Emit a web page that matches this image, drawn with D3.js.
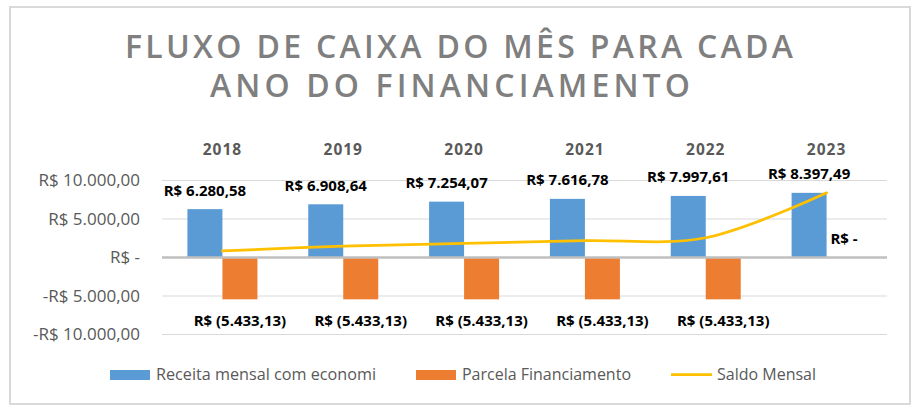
<!DOCTYPE html>
<html>
<head>
<meta charset="utf-8">
<script src="https://cdn.jsdelivr.net/npm/d3@7"></script>
<style>
  html, body { margin: 0; padding: 0; background: #ffffff; }
  svg { display: block; }
  text { font-family: "Open Sans", "Noto Sans", sans-serif; }
</style>
</head>
<body>
<svg id="chart" width="914" height="412"></svg>
<script>
const titleLines = ["FLUXO DE CAIXA DO MÊS PARA CADA", "ANO DO FINANCIAMENTO"];
const categories = ["2018", "2019", "2020", "2021", "2022", "2023"];
const receita = [6280.58, 6908.64, 7254.07, 7616.78, 7997.61, 8397.49];
const parcela = [-5433.13, -5433.13, -5433.13, -5433.13, -5433.13, 0];
const saldo = [847.45, 1475.51, 1820.94, 2183.65, 2564.48, 8397.49];
const yTicks = [-10000, -5000, 0, 5000, 10000];
const seriesNames = ["Receita mensal com economi", "Parcela Financiamento", "Saldo Mensal"];

const colors = { receita: "#5b9bd5", parcela: "#ed7d31", saldo: "#ffc000" };

const svg = d3.select("#chart");

// chart border
svg.append("rect")
  .attr("x", 10).attr("y", 7).attr("width", 900).attr("height", 397)
  .attr("fill", "#ffffff").attr("stroke", "#d9d9d9").attr("stroke-width", 2);

// title: fit each line to its width by adjusting letter spacing
const titleWidths = [668, 480];
const titleY = [57.5, 97];
const titleCx = [459, 450];
titleLines.forEach((t, i) => {
  const el = svg.append("text")
    .attr("x", titleCx[i]).attr("y", titleY[i])
    .attr("text-anchor", "middle")
    .attr("font-size", 32).attr("font-weight", 600)
    .attr("fill", "#7f7f7f")
    .text(t);
  const w0 = el.node().getComputedTextLength();
  const ls = (titleWidths[i] - w0) / (t.length - 1);
  el.attr("letter-spacing", ls).attr("x", titleCx[i] + ls / 2);
});

const x = d3.scaleBand().domain(categories).range([162, 887]).paddingInner(0).paddingOuter(0);
const y = d3.scaleLinear().domain([-10000, 10000]).range([334.5, 180.5]);
const barW = 35;

function fmtBR(v) {
  const a = Math.abs(v);
  if (a === 0) return "R$ -";
  const s = a.toFixed(2).split(".");
  const intPart = s[0].replace(/\B(?=(\d{3})+(?!\d))/g, ".");
  const body = intPart + "," + s[1];
  return v < 0 ? "R$ (" + body + ")" : "R$ " + body;
}
function fmtTick(v) {
  if (v === 0) return "R$ -";
  const a = Math.abs(v);
  const intPart = String(a).replace(/\B(?=(\d{3})+(?!\d))/g, ".");
  return (v < 0 ? "-" : "") + "R$ " + intPart + ",00";
}

// y axis labels
const yAxis = d3.axisLeft(y).tickValues(yTicks).tickSize(0).tickFormat(fmtTick).tickPadding(0);
const gAxis = svg.append("g").attr("transform", "translate(140,0)").call(yAxis);
gAxis.select(".domain").remove();
gAxis.selectAll("text")
  .attr("font-size", 17).attr("fill", "#595959")
  .attr("font-family", "'Open Sans', sans-serif");

// gridlines
svg.append("g").selectAll("line").data(yTicks.filter(d => d !== 0)).join("line")
  .attr("x1", 162).attr("x2", 887)
  .attr("y1", d => y(d)).attr("y2", d => y(d))
  .attr("stroke", "#d9d9d9").attr("stroke-width", 1);

// category labels on top
svg.append("g").selectAll("text").data(categories).join("text")
  .attr("x", d => x(d) + x.bandwidth() / 2)
  .attr("y", 155)
  .attr("text-anchor", "middle")
  .attr("font-size", 15.5).attr("font-weight", 700)
  .attr("letter-spacing", 1)
  .attr("fill", "#595959")
  .text(d => d);

// bars
const gBars = svg.append("g");
gBars.selectAll("rect.rec").data(categories).join("rect")
  .attr("class", "rec")
  .attr("x", d => x(d) + x.bandwidth() / 2 - barW)
  .attr("width", barW)
  .attr("y", (d, i) => y(Math.max(0, receita[i])))
  .attr("height", (d, i) => Math.abs(y(receita[i]) - y(0)))
  .attr("fill", colors.receita);
gBars.selectAll("rect.par").data(categories).join("rect")
  .attr("class", "par")
  .attr("x", d => x(d) + x.bandwidth() / 2)
  .attr("width", barW)
  .attr("y", (d, i) => y(Math.max(0, parcela[i])))
  .attr("height", (d, i) => Math.abs(y(parcela[i]) - y(0)))
  .attr("fill", colors.parcela);

// zero line
svg.append("line")
  .attr("x1", 162).attr("x2", 887)
  .attr("y1", y(0)).attr("y2", y(0))
  .attr("stroke", "#bfbfbf").attr("stroke-width", 2.5);

// saldo line
const line = d3.line()
  .x((d, i) => x(categories[i]) + x.bandwidth() / 2)
  .y(d => y(d))
  .curve(d3.curveCatmullRom.alpha(0.5));
svg.append("path")
  .datum(saldo)
  .attr("d", line)
  .attr("fill", "none")
  .attr("stroke", colors.saldo)
  .attr("stroke-width", 2.75)
  .attr("stroke-linecap", "round");

// data labels
function labelY(v) {
  return v >= 0 ? y(v) - 13.6 : y(v) + 26.4;
}
const gLab = svg.append("g");
gLab.selectAll("text.lr").data(categories).join("text")
  .attr("class", "lr")
  .attr("x", d => x(d) + x.bandwidth() / 2 - barW / 2)
  .attr("y", (d, i) => labelY(receita[i]))
  .attr("text-anchor", "middle")
  .attr("font-size", 15).attr("font-weight", 700).attr("fill", "#000000")
  .text((d, i) => fmtBR(receita[i]));
gLab.selectAll("text.lp").data(categories).join("text")
  .attr("class", "lp")
  .attr("x", d => x(d) + x.bandwidth() / 2 + barW / 2)
  .attr("y", (d, i) => labelY(parcela[i]))
  .attr("text-anchor", "middle")
  .attr("font-size", 15).attr("font-weight", 700).attr("fill", "#000000")
  .text((d, i) => fmtBR(parcela[i]));

// legend
const legend = svg.append("g");
const legendX = [110, 416, 671];
const legendTextW = [220, 169, 99];
seriesNames.forEach((name, i) => {
  const lx = legendX[i];
  if (i < 2) {
    legend.append("rect")
      .attr("x", lx).attr("y", 370).attr("width", 40).attr("height", 10)
      .attr("fill", i === 0 ? colors.receita : colors.parcela);
  } else {
    legend.append("line")
      .attr("x1", lx).attr("x2", lx + 41)
      .attr("y1", 374.5).attr("y2", 374.5)
      .attr("stroke", colors.saldo).attr("stroke-width", 2.75);
  }
  legend.append("text")
    .attr("x", lx + 46)
    .attr("y", 380)
    .attr("font-size", 16).attr("fill", "#595959")
    .attr("textLength", legendTextW[i]).attr("lengthAdjust", "spacingAndGlyphs")
    .text(name);
});
</script>
</body>
</html>
